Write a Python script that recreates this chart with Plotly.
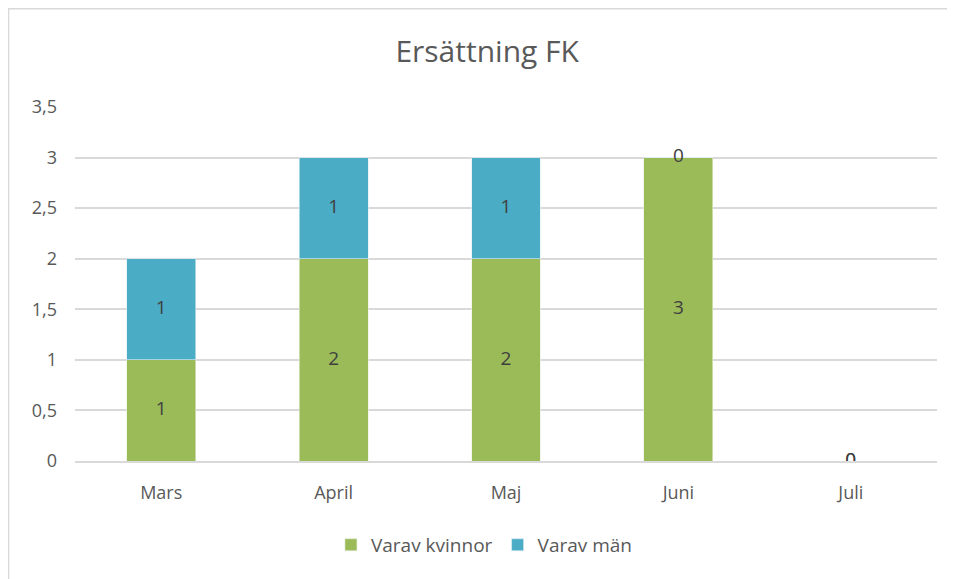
import plotly.graph_objects as go

# data
manader = ["Mars", "April", "Maj", "Juni", "Juli"]
kvinnor = [1, 2, 2, 3, 0]
man = [1, 1, 1, 0, 0]
y_ticks = [0, 0.5, 1, 1.5, 2, 2.5, 3, 3.5]
y_tick_text = ["0", "0,5", "1", "1,5", "2", "2,5", "3", "3,5"]

GREEN = "#9BBB59"
BLUE = "#4BACC6"
TEXT = "#595959"
FONT = "Open Sans"

fig = go.Figure()

fig.add_trace(go.Bar(
    x=manader, y=kvinnor, name="Varav kvinnor",
    marker=dict(color=GREEN, line=dict(color="#E8EEDC", width=0.6)),
))
fig.add_trace(go.Bar(
    x=manader, y=man, name="Varav män",
    marker=dict(color=BLUE, line=dict(color="#DDEEF3", width=0.6)),
))

# data labels at the middle of each segment (zero segments sit on their base)
lab_x, lab_y, lab_t = [], [], []
for m, k, v in zip(manader, kvinnor, man):
    lab_x += [m, m]
    lab_y += [k / 2, k + v / 2]
    lab_t += [str(k), str(v)]

fig.add_trace(go.Scatter(
    x=lab_x, y=lab_y, text=lab_t, mode="text",
    textfont=dict(family=FONT, size=19, color="#404040"),
    showlegend=False, hoverinfo="skip",
))

# thin frame around the chart (right and bottom edges fall outside the view)
fig.add_shape(
    type="rect", xref="paper", yref="paper",
    x0=-0.0771, x1=1.3, y0=-1.0, y1=1.2775,
    line=dict(color="#D9D9D9", width=1.5), layer="below",
)

fig.update_layout(
    barmode="stack",
    bargap=0.6,
    width=947, height=571,
    margin=dict(l=67, r=18, t=99, b=118),
    paper_bgcolor="white",
    plot_bgcolor="white",
    font=dict(family=FONT, color=TEXT, size=18),
    title=dict(
        text="Ersättning FK", x=0.506, xanchor="center",
        y=0.923, yanchor="middle",
        font=dict(family=FONT, size=30, color=TEXT),
    ),
    legend=dict(
        orientation="h", x=0.475, xanchor="center", y=-0.237, yanchor="middle",
        font=dict(family=FONT, size=19, color=TEXT),
        itemwidth=30, traceorder="normal",
    ),
    showlegend=True,
)

fig.update_xaxes(
    showgrid=False, showline=True, linecolor="#D9D9D9", linewidth=1.5,
    ticks="", tickfont=dict(family=FONT, size=18, color=TEXT),
    ticklabelstandoff=15,
)
fig.update_yaxes(
    range=[0, 3.5], tickvals=y_ticks, ticktext=y_tick_text,
    showgrid=True, gridcolor="#D9D9D9", gridwidth=1.5,
    zeroline=False, showline=False, ticks="",
    tickfont=dict(family=FONT, size=18, color=TEXT),
    ticklabelstandoff=17,
)

fig.write_html("out.html")
